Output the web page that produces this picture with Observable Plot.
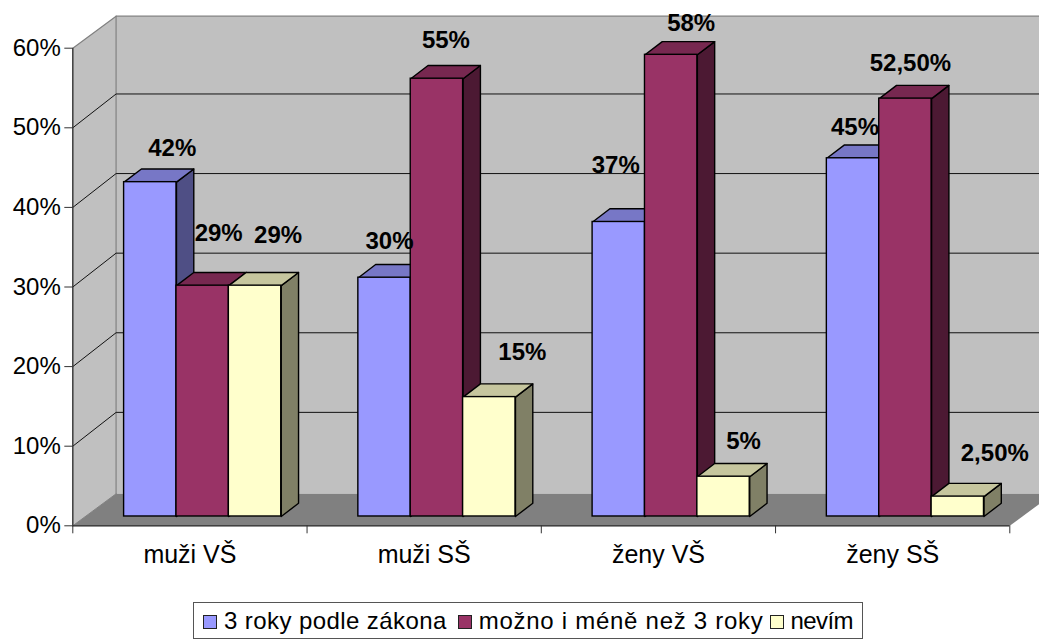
<!DOCTYPE html>
<html>
<head>
<meta charset="utf-8">
<script src="https://cdn.jsdelivr.net/npm/d3@7"></script>
<script src="https://cdn.jsdelivr.net/npm/@observablehq/plot@0.6"></script>
<style>
html,body{margin:0;padding:0;background:#fff;overflow:hidden;}
#legend{margin:4px 0 0 193px;width:668px;height:35px;box-sizing:content-box;border:1px solid #555;display:flex;align-items:center;
font-family:"Liberation Sans",Arial,sans-serif;font-size:24px;color:#000;white-space:nowrap;}
#legend i{display:inline-block;flex:none;width:12px;height:12px;border:1px solid #222;margin:3px 7px 0 9px;}
#legend i:nth-of-type(2){margin-left:11px;margin-right:7px;}
#legend i:nth-of-type(3){margin-left:7px;margin-right:6px;}
#legend span:nth-of-type(1){letter-spacing:.42px;}
#legend span:nth-of-type(2){letter-spacing:.72px;}
#legend span:nth-of-type(3){letter-spacing:-.6px;}
</style>
</head>
<body>
<div id="chart"></div>
<div id="legend"></div>
<script>
const categories = ["muži VŠ", "muži SŠ", "ženy VŠ", "ženy SŠ"];
const seriesNames = ["3 roky podle zákona", "možno i méně než 3 roky", "nevím"];
const zakon = [42, 30, 37, 45];
const mene = [29, 55, 58, 52.5];
const nevim = [29, 15, 5, 2.5];
const labelZakon = ["42%", "30%", "37%", "45%"];
const labelMene = ["29%", "55%", "58%", "52,50%"];
const labelNevim = ["29%", "15%", "5%", "2,50%"];
const yTicks = [0, 10, 20, 30, 40, 50, 60];

// styling
const frontColors = ["#9999FF", "#993366", "#FFFFCC"];
const topColors = ["#7777C6", "#772850", "#C6C69E"];
const sideColors = ["#4F4F85", "#4C1933", "#808066"];

// 3D projection constants, in scale units (categories, percent)
const wallDX = 0.1848, wallDV = 4.02, gridDV = 4.25;
const barLift = 1.17;
const barStart = 0.219, barWidth = 0.2236;
const barDX = 0.0739, barDV = 1.66;
// hand placement of the data labels, px [dx, dy] per series per category
const labelNudge = [
  [[22,-34],[5,-36],[-3,-57],[2,-31]],
  [[16,-52],[9,-38],[20,-31],[5,-35]],
  [[23,-50],[33,-45],[20,-35],[37,-43]]
];

const values = [zakon, mene, nevim];
const labels = [labelZakon, labelMene, labelNevim];
const font = '"Liberation Sans",Arial,sans-serif';
const xEnd = 4 + wallDX;

const bars = [];
categories.forEach((cat, c) => values.forEach((vals, s) => {
  const v = vals[c];
  const x1 = c + barStart + s * barWidth;
  const x2 = x1 + barWidth;
  bars.push({cat, c, s, v, x1, x2, y: v + barLift, base: barLift, label: labels[s][c]});
}));

const poly = (id, fill, pts) => pts.map(([x, y]) => ({id, fill, x, y}));
const sides = bars.flatMap((b, i) => poly(i, sideColors[b.s], [
  [b.x2, b.base], [b.x2 + barDX, b.base + barDV], [b.x2 + barDX, b.y + barDV], [b.x2, b.y], [b.x2, b.base]
]));
const tops = bars.flatMap((b, i) => poly(i, topColors[b.s], [
  [b.x1, b.y], [b.x1 + barDX, b.y + barDV], [b.x2 + barDX, b.y + barDV], [b.x2, b.y], [b.x1, b.y]
]));
const leftWall = poly(0, "#C0C0C0", [[0,0],[wallDX,wallDV],[wallDX,60+wallDV],[0,60]]);
const backWall = poly(1, "#C0C0C0", [[wallDX,wallDV],[xEnd,wallDV],[xEnd,60+wallDV],[wallDX,60+wallDV]]);
const floor = poly(2, "#808080", [[0,0],[4,0],[xEnd,wallDV],[wallDX,wallDV]]);
const grid = yTicks.filter(t => t > 0 && t < 60);
const gridPaths = grid.flatMap((t, i) => [
  {id: i, x: 0, y: t}, {id: i, x: wallDX, y: t + gridDV}, {id: i, x: xEnd, y: t + gridDV}
]);
const edge = [{x:0,y:0},{x:0,y:60},{x:wallDX,y:60+wallDV},{x:xEnd,y:60+wallDV}];
const edge2 = [{x:wallDX,y:wallDV},{x:wallDX,y:60+wallDV}];
const edge3 = [{x:0,y:0},{x:wallDX,y:wallDV}];

const labelMarks = bars.map(b => {
  const [dx, dy] = labelNudge[b.s][b.c];
  return Plot.text([b], {
    x: d => (d.x1 + d.x2) / 2, y: "y", text: "label", dx, dy,
    fontWeight: "bold", fontSize: 24, fill: "#000", fontFamily: font
  });
});

const chart = Plot.plot({
  width: 1039, height: 598,
  marginLeft: 72.3, marginRight: 29.7, marginTop: 47.7, marginBottom: 72.7,
  x: {type: "linear", domain: [0, 4], axis: null},
  y: {type: "linear", domain: [0, 60], axis: null},
  color: {type: "identity"},
  style: {fontFamily: font, fontSize: "24px", background: "#fff", color: "#000", overflow: "hidden"},
  marks: [
    Plot.line(leftWall, {x:"x", y:"y", z:"id", fill:"fill", stroke:null}),
    Plot.line(backWall, {x:"x", y:"y", z:"id", fill:"fill", stroke:null}),
    Plot.line(floor, {x:"x", y:"y", z:"id", fill:"fill", stroke:null}),
    Plot.line(edge, {x:"x", y:"y", stroke:"#808080", strokeWidth:1.2}),
    Plot.line(edge2, {x:"x", y:"y", stroke:"#808080", strokeWidth:1.2}),
    Plot.line(edge3, {x:"x", y:"y", stroke:"#808080", strokeWidth:1}),
    Plot.line(gridPaths, {x:"x", y:"y", z:"id", stroke:"#111", strokeWidth:1}),
    Plot.line(sides, {x:"x", y:"y", z:"id", fill:"fill", stroke:"#000", strokeWidth:1.4, strokeLinejoin:"round"}),
    Plot.line(tops, {x:"x", y:"y", z:"id", fill:"fill", stroke:"#000", strokeWidth:1.4, strokeLinejoin:"round"}),
    Plot.rect(bars, {x1:"x1", x2:"x2", y1:"base", y2:"y", fill: d => frontColors[d.s], stroke:"#000", strokeWidth:1.4, inset:0}),
    Plot.ruleX([0], {y1:0, y2:60, stroke:"#333", strokeWidth:1.2}),
    Plot.ruleY([0], {x1:0, x2:4, stroke:"#222", strokeWidth:1.2}),
    Plot.axisY({ticks: yTicks, tickSize: 8, tickPadding: 4, tickFormat: d => d + "%", fontSize: 24, stroke:"#333", fill:"#000", label:null}),
    Plot.axisX({ticks: [0,1,2,3,4], tickSize: 8, tickFormat: () => "", stroke:"#333", label:null}),
    Plot.text(categories, {x: (d, i) => i + 0.5, y: () => 0, dy: 29, text: d => d, fontSize: 25, fill:"#000", fontFamily: font}),
    ...labelMarks
  ]
});
document.getElementById("chart").appendChild(chart);

const legend = document.getElementById("legend");
seriesNames.forEach((name, i) => {
  const sw = document.createElement("i");
  sw.style.background = frontColors[i];
  const t = document.createElement("span");
  t.textContent = name;
  legend.append(sw, t);
});
</script>
</body>
</html>
